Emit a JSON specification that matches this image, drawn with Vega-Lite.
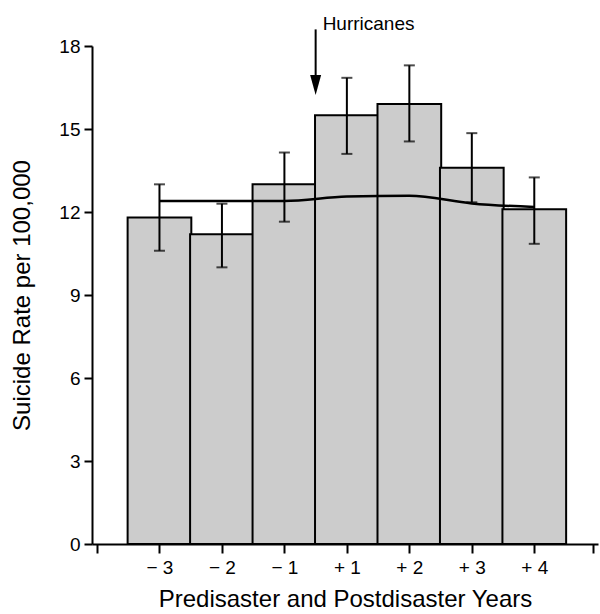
{
  "$schema": "https://vega.github.io/schema/vega-lite/v6.json",
  "autosize": "none",
  "padding": {"left": 92, "top": 46, "right": 2, "bottom": 70},
  "width": 506,
  "height": 498,
  "background": "white",
  "config": {
    "view": {"stroke": null},
    "font": "Liberation Sans",
    "axis": {
      "grid": false,
      "domainColor": "black",
      "domainWidth": 2,
      "tickColor": "black",
      "tickWidth": 2,
      "labelColor": "black",
      "titleColor": "black",
      "labelFont": "Liberation Sans",
      "titleFont": "Liberation Sans",
      "titleFontWeight": "normal",
      "labelFontSize": 19,
      "titleFontSize": 24
    }
  },
  "datasets": {
    "rates": [
      {"label": "− 3", "idx": 0, "rate": 11.8, "lo": 10.6, "hi": 13.0, "trend": 12.4},
      {"label": "− 2", "idx": 1, "rate": 11.2, "lo": 10.0, "hi": 12.3, "trend": 12.4},
      {"label": "− 1", "idx": 2, "rate": 13.0, "lo": 11.65, "hi": 14.15, "trend": 12.4},
      {"label": "+ 1", "idx": 3, "rate": 15.5, "lo": 14.1, "hi": 16.85, "trend": 12.56},
      {"label": "+ 2", "idx": 4, "rate": 15.9, "lo": 14.55, "hi": 17.3, "trend": 12.59},
      {"label": "+ 3", "idx": 5, "rate": 13.6, "lo": 12.35, "hi": 14.85, "trend": 12.31},
      {"label": "+ 4", "idx": 6, "rate": 12.1, "lo": 10.85, "hi": 13.25, "trend": 12.18}
    ],
    "note": [
      {"idx": 2.5, "top": 18.6, "shaft": 16.9, "head": 16.59, "text": "Hurricanes"}
    ]
  },
  "encoding": {
    "x": {
      "field": "idx",
      "type": "quantitative",
      "scale": {"domain": [-1, 6.94], "nice": false, "zero": false},
      "axis": {
        "values": [-1, 0, 1, 2, 3, 4, 5, 6, 6.94],
        "labelExpr": "datum.value >= 0 && datum.value <= 6 && datum.value == round(datum.value) ? ['− 3','− 2','− 1','+ 1','+ 2','+ 3','+ 4'][datum.value] : ''",
        "tickSize": 9,
        "labelPadding": 5,
        "title": "Predisaster and Postdisaster Years",
        "titlePadding": 10
      }
    }
  },
  "layer": [
    {
      "data": {"name": "rates"},
      "mark": {"type": "bar", "width": 63.7, "fill": "#cccccc", "stroke": "black", "strokeWidth": 2},
      "encoding": {
        "y": {
          "field": "rate",
          "type": "quantitative",
          "scale": {"domain": [0, 18], "nice": false},
          "axis": {
            "values": [0, 3, 6, 9, 12, 15, 18],
            "tickSize": 8,
            "labelPadding": 4,
            "title": "Suicide Rate per 100,000",
            "titlePadding": 24
          }
        }
      }
    },
    {
      "data": {"name": "rates"},
      "mark": {"type": "line", "color": "black", "strokeWidth": 2.5, "interpolate": "monotone"},
      "encoding": {"y": {"field": "trend", "type": "quantitative"}}
    },
    {
      "data": {"name": "rates"},
      "mark": {"type": "rule", "color": "black", "strokeWidth": 2},
      "encoding": {"y": {"field": "lo", "type": "quantitative"}, "y2": {"field": "hi"}}
    },
    {
      "data": {"name": "rates"},
      "mark": {"type": "tick", "orient": "horizontal", "color": "black", "size": 11, "thickness": 2},
      "encoding": {"y": {"field": "lo", "type": "quantitative"}}
    },
    {
      "data": {"name": "rates"},
      "mark": {"type": "tick", "orient": "horizontal", "color": "black", "size": 11, "thickness": 2},
      "encoding": {"y": {"field": "hi", "type": "quantitative"}}
    },
    {
      "data": {"name": "note"},
      "mark": {"type": "rule", "color": "black", "strokeWidth": 2},
      "encoding": {"y": {"field": "top", "type": "quantitative"}, "y2": {"field": "shaft"}}
    },
    {
      "data": {"name": "note"},
      "mark": {"type": "point", "shape": "M-0.55,-1L0.55,-1L0,1Z", "filled": true, "color": "black", "size": 400, "opacity": 1},
      "encoding": {"y": {"field": "head", "type": "quantitative"}}
    },
    {
      "data": {"name": "note"},
      "mark": {"type": "text", "align": "left", "baseline": "alphabetic", "dx": 7, "dy": 1, "fontSize": 19, "font": "Liberation Sans", "color": "black"},
      "encoding": {"y": {"field": "top", "type": "quantitative"}, "text": {"field": "text"}}
    }
  ]
}
